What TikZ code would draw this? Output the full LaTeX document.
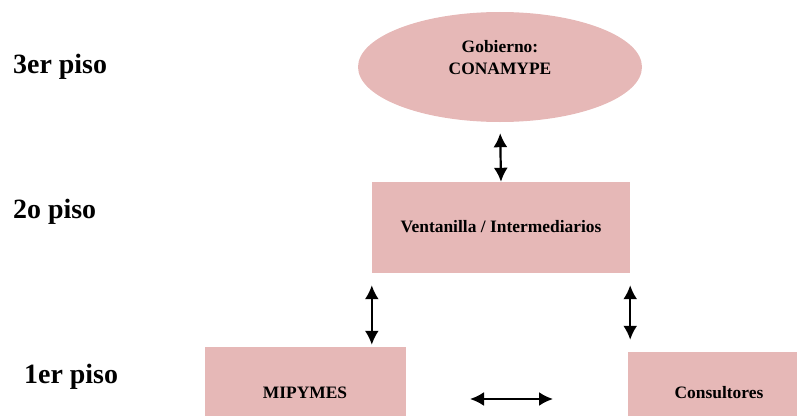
\documentclass[tikz,border=0pt]{standalone}
\usepackage{fontspec}
\setmainfont{Liberation Serif}
\usetikzlibrary{shapes.geometric,arrows.meta}
\definecolor{rosa}{HTML}{E6B8B7}
\tikzset{
  caja/.style={fill=rosa, inner sep=0pt},
  texto/.style={inner sep=0pt, font=\bfseries\fontsize{17.5}{23}\selectfont},
  piso/.style={inner sep=0pt, anchor=base west, font=\bfseries\fontsize{28}{32}\selectfont},
  flecha/.style={draw, line width=2.2bp, {Latex[length=14bp,width=14bp]}-{Latex[length=14bp,width=14bp]}}
}
\begin{document}
\begin{tikzpicture}[x=1bp,y=1bp]
\useasboundingbox (0,0) rectangle (797,415);

\node[piso] (p3) at (13,342) {3er piso};
\node[piso] (p2) at (13,197) {2o piso};
\node[piso] (p1) at (24,32) {1er piso};

\node[caja, ellipse, minimum width=284bp, minimum height=110bp] (g) at (500,348) {};
\node[texto, align=center] (gt) at (500,357.5) {Gobierno:\\CONAMYPE};
\node[caja, minimum width=258bp, minimum height=91bp] (v) at (501,187.5) {};
\node[texto, anchor=base] (vt) at (501,183) {Ventanilla / Intermediarios};
\node[caja, minimum width=201bp, minimum height=86bp] (m) at (305.5,25) {};
\node[texto, anchor=base] (mt) at (305,17) {MIPYMES};
\node[caja, minimum width=172bp, minimum height=76bp] (c) at (714,25) {};
\node[texto, anchor=base] (ct) at (719,17) {Consultores};

\path[flecha, shorten <=11bp] (g.south) -- (v.north);
\path[flecha, shorten <=12bp, shorten >=2bp] (v.south west) -- (v.south west |- m.north);
\path[flecha, shorten <=12bp, shorten >=12bp] (v.south east) -- (v.south east |- c.north);

\coordinate (h1) at (470,16);
\coordinate (h2) at (553,16);
\path[flecha] (h1) -- (h2);
\end{tikzpicture}
\end{document}
